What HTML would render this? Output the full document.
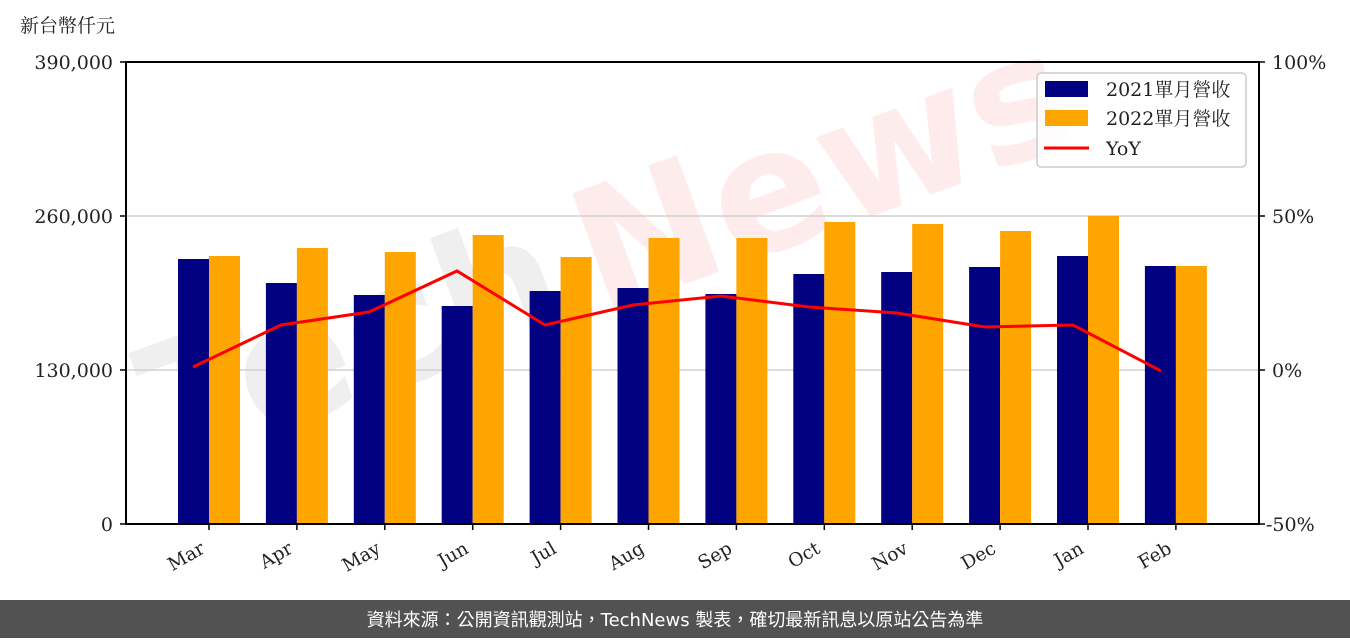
<!DOCTYPE html>
<html><head><meta charset="utf-8"><style>
body{margin:0;background:#fff;width:1350px;height:638px;overflow:hidden}
svg text{font-family:"DejaVu Serif","Noto Serif CJK SC",serif}
</style></head><body>
<svg width="1350" height="638" viewBox="0 0 1350 638" xmlns="http://www.w3.org/2000/svg">
<rect width="1350" height="638" fill="#fff"/>
<g opacity="0.09" font-weight="bold" font-size="170">
<text x="170" y="470" transform="rotate(-20 170 470)" fill="#444" style="font-family:'DejaVu Sans',sans-serif">Tech</text>
<text x="600" y="315" transform="rotate(-20 600 315)" fill="#e23" style="font-family:'DejaVu Sans',sans-serif">News</text>
</g>
<line x1="126" y1="216" x2="1259" y2="216" stroke="#d0d0d0" stroke-width="1.5"/>
<line x1="126" y1="370" x2="1259" y2="370" stroke="#d0d0d0" stroke-width="1.5"/>
<g id="bars"></g>
<polyline fill="none" stroke="#f00" stroke-width="3" points="193,367 281,325 369,312 457,271 545,325 633,305 721,296 809,307 897,313 985,327 1073,325 1161,371"/>
<rect x="126" y="62" width="1133" height="462" fill="none" stroke="#000" stroke-width="2"/>
<g font-size="19" fill="#222" text-anchor="end">
<text x="113" y="69">390,000</text><text x="113" y="223">260,000</text><text x="113" y="377">130,000</text><text x="113" y="531">0</text>
</g>
<g stroke="#000" stroke-width="1.5">
<line x1="120" y1="62" x2="126" y2="62"/><line x1="120" y1="216" x2="126" y2="216"/><line x1="120" y1="370" x2="126" y2="370"/><line x1="120" y1="524" x2="126" y2="524"/>
<line x1="1259" y1="62" x2="1265" y2="62"/><line x1="1259" y1="216" x2="1265" y2="216"/><line x1="1259" y1="370" x2="1265" y2="370"/><line x1="1259" y1="524" x2="1265" y2="524"/>
</g>
<g font-size="19" fill="#222">
<text x="1272" y="69">100%</text><text x="1272" y="223">50%</text><text x="1272" y="377">0%</text><text x="1266" y="531">-50%</text>
</g>
<text x="20" y="32" font-size="19" fill="#222">新台幣仟元</text>
<g id="xl" font-size="18.5" fill="#222" text-anchor="end"></g>
<rect x="1037" y="73" width="209" height="94" rx="4" fill="#fff" fill-opacity="0.85" stroke="#ccc" stroke-width="1.5"/>
<rect x="1045" y="81" width="43" height="16" fill="#000080"/>
<rect x="1045" y="110" width="43" height="16" fill="#ffa500"/>
<line x1="1044" y1="148" x2="1089" y2="148" stroke="#f00" stroke-width="3"/>
<g font-size="19" fill="#222"><text x="1106" y="96">2021單月營收</text><text x="1106" y="125">2022單月營收</text><text x="1106" y="155">YoY</text></g>
<rect x="0" y="600" width="1350" height="38" fill="#525252"/>
<text x="675" y="626" font-size="18" fill="#fff" text-anchor="middle" style="font-family:'DejaVu Sans','Noto Sans CJK TC',sans-serif">資料來源：公開資訊觀測站，TechNews 製表，確切最新訊息以原站公告為準</text>
</svg>
<script>
var n=[259,283,295,306,291,288,294,274,272,267,256,266],o=[256,248,252,235,257,238,238,222,224,231,216,266];
var L=["Mar","Apr","May","Jun","Jul","Aug","Sep","Oct","Nov","Dec","Jan","Feb"];
var b=document.getElementById('bars'),x=document.getElementById('xl'),s='',t='';
for(var i=0;i<12;i++){var c=209+i*87.9;
s+='<rect x="'+(c-31)+'" y="'+n[i]+'" width="31" height="'+(524-n[i])+'" fill="#000080"/>';
s+='<rect x="'+c+'" y="'+o[i]+'" width="31" height="'+(524-o[i])+'" fill="#ffa500"/>';
s+='<line x1="'+c+'" y1="524" x2="'+c+'" y2="530" stroke="#000" stroke-width="1.5"/>';
t+='<text x="'+(c-3)+'" y="552" transform="rotate(-30 '+(c-3)+' 552)">'+L[i]+'</text>';}
b.innerHTML=s;x.innerHTML=t;
</script>
</body></html>
